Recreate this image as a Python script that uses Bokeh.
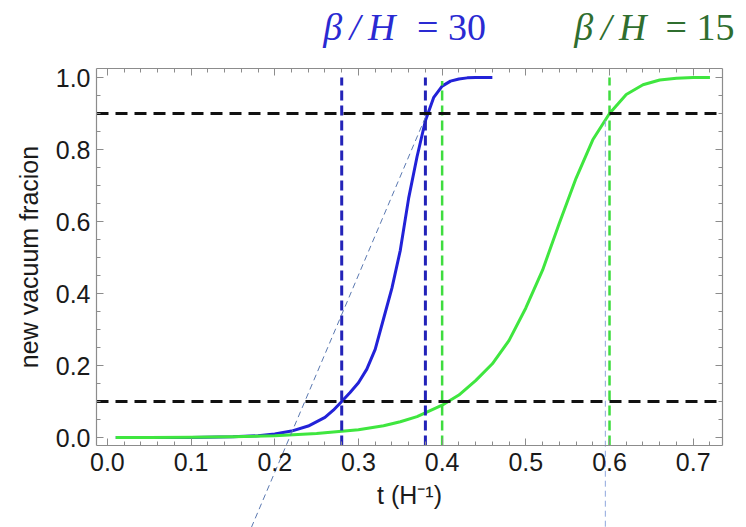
from bokeh.plotting import figure
from bokeh.models import (Range1d, LinearAxis, Label, FixedTicker,
                          NumeralTickFormatter, CustomJSTickFormatter)
from bokeh.embed import file_html
from bokeh.resources import INLINE

# ---- data ----
blue_t = [0.01, 0.05, 0.10, 0.15, 0.18, 0.20, 0.22, 0.24, 0.26, 0.27, 0.28,
          0.29, 0.30, 0.31, 0.32, 0.33, 0.34, 0.35, 0.36, 0.37, 0.38, 0.39,
          0.40, 0.41, 0.42, 0.43, 0.44, 0.46]
blue_f = [0.0, 0.0002, 0.0005, 0.002, 0.005, 0.01, 0.018, 0.032, 0.056, 0.076,
          0.10, 0.125, 0.152, 0.19, 0.245, 0.33, 0.415, 0.52, 0.665, 0.78,
          0.88, 0.945, 0.976, 0.99, 0.996, 0.999, 1.0, 1.0]

green_t = [0.01, 0.05, 0.10, 0.15, 0.20, 0.25, 0.30, 0.33, 0.35, 0.37, 0.40,
           0.42, 0.44, 0.46, 0.48, 0.50, 0.52, 0.54, 0.56, 0.58, 0.60, 0.62,
           0.64, 0.66, 0.68, 0.70, 0.72]
green_f = [0.0, 0.0003, 0.001, 0.002, 0.005, 0.011, 0.022, 0.033, 0.044, 0.058,
           0.09, 0.118, 0.158, 0.205, 0.27, 0.36, 0.465, 0.595, 0.72, 0.827,
           0.90, 0.953, 0.98, 0.993, 0.998, 1.0, 1.0]

blue_marks = [0.28, 0.38]      # beta/H = 30 : 10% and 90% times
green_marks = [0.40, 0.60]     # beta/H = 15 : 10% and 90% times
levels = [0.1, 0.9]            # horizontal reference fractions

tangent_t = [0.172, 0.381]     # thin dashed tangent line
tangent_f = [-0.25, 0.895]
guide_t = 0.595                # thin vertical guide
guide_f = [0.88, -0.25]

x_ticks = [0.0, 0.1, 0.2, 0.3, 0.4, 0.5, 0.6, 0.7]
y_ticks = [0.0, 0.2, 0.4, 0.6, 0.8, 1.0]
x_minor = [round(i * 0.02, 2) for i in range(0, 37)]
y_minor = [round(i * 0.05, 2) for i in range(0, 21)]

# visible box of the chart (data units)
box_x = (-0.013, 0.735)
box_y = (-0.022, 1.025)

titles = [("β\u2009/\u2009H", "= 30", 0.258, 0.370, "#2a2ad2"),
          ("β\u2009/\u2009H", "= 15", 0.558, 0.667, "#2f6e2f")]
title_y = 1.14

# ---- figure: the frame spans the whole canvas ----
px_per_x = 836.9
px_per_y = 360.0
p = figure(width=746, height=527,
           x_range=Range1d(box_x[0] - 96 / px_per_x, box_x[0] + 650 / px_per_x),
           y_range=Range1d(box_y[0] - 82 / px_per_y, box_y[1] + 68 / px_per_y),
           output_backend="svg", toolbar_location=None,
           x_axis_location=None, y_axis_location=None,
           min_border=0)
p.grid.visible = False
p.outline_line_color = None
p.background_fill_color = "white"
p.border_fill_color = "white"

font = "Liberation Sans"
gray = "#8c8c8c"
blank = CustomJSTickFormatter(code="return ''")

def make_axis(ticks, minor, bounds, loc, labels=True):
    ax = LinearAxis(ticker=FixedTicker(ticks=ticks, minor_ticks=minor),
                    bounds=bounds, fixed_location=loc)
    ax.axis_line_color = gray
    ax.axis_line_width = 1.2
    ax.major_tick_line_color = gray
    ax.minor_tick_line_color = gray
    ax.major_tick_in = 7
    ax.major_tick_out = 0
    ax.minor_tick_in = 4
    ax.minor_tick_out = 0
    if labels:
        ax.formatter = NumeralTickFormatter(format="0.0")
        ax.major_label_text_font = font
        ax.major_label_text_font_size = "25px"
        ax.major_label_text_color = "#1a1a1a"
        ax.axis_label_text_font = font
        ax.axis_label_text_font_size = "25px"
        ax.axis_label_text_font_style = "normal"
        ax.axis_label_text_color = "#1a1a1a"
    else:
        ax.formatter = blank
    return ax

left_ax = make_axis(y_ticks, y_minor, box_y, box_x[0])
left_ax.axis_label = "new vacuum fracion"
left_ax.major_label_standoff = 6
left_ax.axis_label_standoff = 10
p.add_layout(left_ax, "left")

bottom_ax = make_axis(x_ticks, x_minor, box_x, box_y[0])
bottom_ax.axis_label = "t (H⁻¹)"
bottom_ax.major_label_standoff = 8
bottom_ax.axis_label_standoff = 6
p.add_layout(bottom_ax, "below")

top_ax = make_axis(x_ticks, x_minor, box_x, box_y[1], labels=False)
p.add_layout(top_ax, "above")
right_ax = make_axis(y_ticks, y_minor, box_y, box_x[1], labels=False)
p.add_layout(right_ax, "right")

# ---- curves ----
p.line(blue_t, blue_f, line_color="#2222d8", line_width=3, line_join="round")
p.line(green_t, green_f, line_color="#3fe63f", line_width=3, line_join="round")

# ---- reference dashed lines ----
p.segment(x0=blue_marks, y0=[box_y[0]] * 2, x1=blue_marks, y1=[1.0] * 2,
          line_color="#2323b8", line_width=3, line_dash="10 5")
p.segment(x0=green_marks, y0=[box_y[0]] * 2, x1=green_marks, y1=[0.99, 1.0],
          line_color="#3fdc3f", line_width=2.5, line_dash="10 5")
p.segment(x0=[box_x[0]] * 2, y0=levels, x1=[box_x[1]] * 2, y1=levels,
          line_color="#111111", line_width=3, line_dash="12 7")

# thin construction lines (they run below the box)
p.line(tangent_t, tangent_f, line_color="#5a78b0", line_width=1, line_dash="6 4")
p.line([guide_t, guide_t], guide_f, line_color="#8ea6dc", line_width=1,
       line_dash="6 4")

# ---- titles above the box ----
for sym, val, xs, xv, col in titles:
    p.add_layout(Label(x=xs, y=title_y, text=sym, text_font="Liberation Serif",
                       text_font_style="italic", text_font_size="38px",
                       text_color=col, text_baseline="alphabetic"))
    p.add_layout(Label(x=xv, y=title_y, text=val, text_font="Liberation Serif",
                       text_font_size="38px", text_color=col,
                       text_baseline="alphabetic"))

open("out.html", "w").write(file_html(p, INLINE))
